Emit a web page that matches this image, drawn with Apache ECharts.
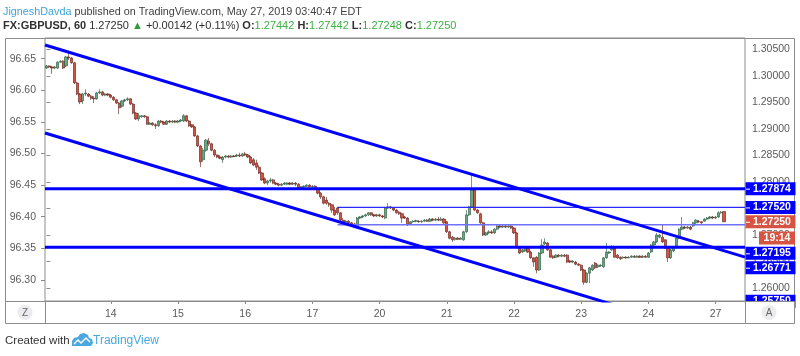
<!DOCTYPE html>
<html><head><meta charset="utf-8">
<script src="https://cdn.jsdelivr.net/npm/echarts@6/dist/echarts.min.js"></script>
<style>html,body{margin:0;padding:0;background:#fff}#c{width:800px;height:356px}</style>
</head><body><div id="c"></div><script>
// ---- data ----
const slotCount = 250;                       // hourly slots on the x axis
const dayStarts = [23,47,71,95,119,143,167,191,215,239];
const dayLabels = ['14','15','16','17','20','21','22','23','24','27'];
// hourly candles [open, close, low, high]
const ohlc = [
[1.3015,1.3019,1.3013,1.3021],[1.3019,1.3017,1.3015,1.3020],[1.3017,1.3015,1.3004,1.3019],[1.3015,1.3017,1.3013,1.3019],
[1.3015,1.3026,1.3013,1.3028],[1.3026,1.3028,1.3025,1.3030],[1.3028,1.3015,1.3013,1.3030],[1.3019,1.3036,1.3017,1.3038],
[1.3036,1.3034,1.3030,1.3045],[1.3034,1.3025,1.3023,1.3036],[1.3025,1.2987,1.2985,1.3026],[1.2987,1.2966,1.2964,1.2989],
[1.2966,1.2951,1.2947,1.2968],[1.2953,1.2966,1.2947,1.2968],[1.2966,1.2968,1.2962,1.2975],[1.2966,1.2962,1.2960,1.2968],
[1.2962,1.2958,1.2955,1.2964],[1.2958,1.2957,1.2949,1.2962],[1.2957,1.2968,1.2955,1.2970],[1.2968,1.2970,1.2966,1.2975],
[1.2970,1.2964,1.2962,1.2972],[1.2964,1.2966,1.2962,1.2968],[1.2966,1.2964,1.2962,1.2968],
// 14
[1.2964,1.2960,1.2958,1.2966],[1.2960,1.2955,1.2953,1.2962],[1.2955,1.2949,1.2947,1.2957],[1.2949,1.2940,1.2928,1.2951],
[1.2943,1.2953,1.2940,1.2955],[1.2953,1.2955,1.2951,1.2957],[1.2955,1.2957,1.2953,1.2960],[1.2957,1.2947,1.2945,1.2958],
[1.2947,1.2930,1.2928,1.2949],[1.2930,1.2919,1.2917,1.2932],[1.2919,1.2925,1.2915,1.2930],[1.2923,1.2925,1.2921,1.2926],
[1.2925,1.2923,1.2921,1.2926],[1.2923,1.2909,1.2908,1.2925],[1.2909,1.2911,1.2908,1.2913],[1.2911,1.2908,1.2906,1.2913],
[1.2908,1.2906,1.2900,1.2911],[1.2906,1.2915,1.2904,1.2917],[1.2915,1.2913,1.2911,1.2917],[1.2913,1.2909,1.2908,1.2915],
[1.2909,1.2915,1.2908,1.2917],[1.2915,1.2913,1.2911,1.2917],[1.2913,1.2915,1.2911,1.2917],[1.2915,1.2913,1.2911,1.2917],
// 15
[1.2913,1.2915,1.2911,1.2917],[1.2915,1.2917,1.2913,1.2919],[1.2915,1.2925,1.2913,1.2928],[1.2925,1.2915,1.2913,1.2926],
[1.2915,1.2906,1.2904,1.2917],[1.2908,1.2904,1.2902,1.2909],[1.2904,1.2887,1.2885,1.2906],[1.2887,1.2868,1.2866,1.2889],
[1.2868,1.2838,1.2828,1.2870],[1.2842,1.2860,1.2838,1.2864],[1.2860,1.2879,1.2857,1.2881],[1.2877,1.2872,1.2868,1.2883],
[1.2872,1.2860,1.2858,1.2874],[1.2860,1.2851,1.2847,1.2862],[1.2851,1.2847,1.2845,1.2852],[1.2847,1.2845,1.2843,1.2851],
[1.2842,1.2847,1.2836,1.2849],[1.2847,1.2849,1.2845,1.2851],[1.2849,1.2847,1.2845,1.2851],[1.2847,1.2849,1.2845,1.2851],
[1.2849,1.2848,1.2847,1.2851],[1.2849,1.2851,1.2847,1.2853],[1.2851,1.2849,1.2847,1.2855],[1.2849,1.2853,1.2847,1.2855],
// 16
[1.2853,1.2851,1.2849,1.2857],[1.2851,1.2847,1.2845,1.2853],[1.2847,1.2836,1.2834,1.2849],[1.2842,1.2832,1.2830,1.2845],
[1.2836,1.2828,1.2823,1.2842],[1.2828,1.2817,1.2815,1.2832],[1.2817,1.2804,1.2802,1.2819],[1.2806,1.2798,1.2796,1.2809],
[1.2798,1.2802,1.2794,1.2804],[1.2802,1.2804,1.2798,1.2808],[1.2804,1.2798,1.2796,1.2806],[1.2798,1.2796,1.2794,1.2800],
[1.2796,1.2794,1.2792,1.2798],[1.2794,1.2796,1.2792,1.2798],[1.2796,1.2798,1.2794,1.2800],[1.2796,1.2798,1.2794,1.2800],
[1.2798,1.2796,1.2794,1.2800],[1.2796,1.2798,1.2794,1.2800],[1.2798,1.2796,1.2792,1.2800],[1.2796,1.2787,1.2785,1.2798],
[1.2789,1.2791,1.2787,1.2792],[1.2791,1.2792,1.2789,1.2794],[1.2792,1.2794,1.2791,1.2796],[1.2794,1.2791,1.2789,1.2796],
// 17
[1.2791,1.2792,1.2789,1.2794],[1.2792,1.2787,1.2785,1.2794],[1.2787,1.2779,1.2777,1.2789],[1.2779,1.2772,1.2768,1.2781],
[1.2772,1.2760,1.2758,1.2774],[1.2766,1.2760,1.2757,1.2772],[1.2760,1.2757,1.2753,1.2762],[1.2757,1.2747,1.2742,1.2758],
[1.2747,1.2738,1.2736,1.2753],[1.2751,1.2742,1.2738,1.2753],[1.2742,1.2728,1.2723,1.2743],[1.2728,1.2725,1.2723,1.2732],
[1.2725,1.2726,1.2723,1.2728],[1.2726,1.2723,1.2721,1.2728],[1.2723,1.2719,1.2717,1.2725],[1.2721,1.2715,1.2713,1.2723],
[1.2715,1.2732,1.2713,1.2734],[1.2732,1.2734,1.2730,1.2736],[1.2734,1.2736,1.2732,1.2738],[1.2736,1.2738,1.2734,1.2740],
[1.2738,1.2742,1.2736,1.2743],[1.2742,1.2738,1.2736,1.2743],[1.2738,1.2736,1.2734,1.2740],[1.2736,1.2738,1.2734,1.2740],
// 20
[1.2738,1.2736,1.2734,1.2740],[1.2736,1.2734,1.2732,1.2738],[1.2732,1.2751,1.2730,1.2753],[1.2751,1.2753,1.2749,1.2760],
[1.2753,1.2751,1.2749,1.2755],[1.2751,1.2747,1.2745,1.2753],[1.2747,1.2742,1.2740,1.2749],[1.2743,1.2740,1.2738,1.2745],
[1.2740,1.2732,1.2723,1.2742],[1.2734,1.2732,1.2730,1.2736],[1.2732,1.2719,1.2717,1.2734],[1.2721,1.2725,1.2719,1.2726],
[1.2725,1.2726,1.2723,1.2728],[1.2726,1.2727,1.2724,1.2729],[1.2726,1.2725,1.2723,1.2728],[1.2725,1.2726,1.2723,1.2728],
[1.2726,1.2728,1.2725,1.2730],[1.2728,1.2726,1.2725,1.2730],[1.2726,1.2730,1.2725,1.2732],[1.2730,1.2728,1.2726,1.2732],
[1.2728,1.2730,1.2726,1.2732],[1.2730,1.2728,1.2726,1.2734],[1.2728,1.2730,1.2726,1.2734],[1.2730,1.2723,1.2721,1.2732],
// 21
[1.2725,1.2706,1.2704,1.2726],[1.2706,1.2694,1.2692,1.2708],[1.2696,1.2691,1.2687,1.2698],[1.2692,1.2694,1.2689,1.2696],
[1.2694,1.2692,1.2691,1.2696],[1.2692,1.2694,1.2691,1.2696],[1.2691,1.2706,1.2689,1.2708],[1.2706,1.2738,1.2704,1.2747],
[1.2738,1.2753,1.2736,1.2755],[1.2753,1.2785,1.2751,1.2813],[1.2785,1.2747,1.2745,1.2787],[1.2747,1.2742,1.2740,1.2749],
[1.2740,1.2723,1.2721,1.2742],[1.2723,1.2700,1.2698,1.2725],[1.2700,1.2704,1.2698,1.2706],[1.2704,1.2706,1.2702,1.2709],
[1.2706,1.2704,1.2702,1.2709],[1.2704,1.2711,1.2702,1.2713],[1.2711,1.2717,1.2709,1.2719],[1.2717,1.2715,1.2713,1.2719],
[1.2715,1.2717,1.2713,1.2719],[1.2717,1.2715,1.2713,1.2719],[1.2715,1.2717,1.2713,1.2719],[1.2717,1.2713,1.2711,1.2719],
// 22
[1.2713,1.2704,1.2702,1.2715],[1.2704,1.2677,1.2675,1.2706],[1.2677,1.2666,1.2664,1.2679],[1.2668,1.2672,1.2666,1.2674],
[1.2670,1.2675,1.2668,1.2677],[1.2675,1.2668,1.2666,1.2677],[1.2668,1.2657,1.2655,1.2670],[1.2657,1.2649,1.2640,1.2658],
[1.2658,1.2634,1.2628,1.2660],[1.2634,1.2666,1.2632,1.2668],[1.2666,1.2681,1.2664,1.2692],[1.2683,1.2687,1.2681,1.2694],
[1.2685,1.2672,1.2670,1.2687],[1.2672,1.2658,1.2657,1.2674],[1.2660,1.2657,1.2655,1.2662],[1.2658,1.2662,1.2657,1.2664],
[1.2662,1.2660,1.2658,1.2664],[1.2660,1.2662,1.2658,1.2664],[1.2662,1.2660,1.2658,1.2664],[1.2662,1.2649,1.2647,1.2664],
[1.2651,1.2649,1.2647,1.2653],[1.2649,1.2651,1.2647,1.2653],[1.2649,1.2645,1.2643,1.2651],[1.2645,1.2643,1.2642,1.2647],
// 23
[1.2643,1.2634,1.2632,1.2645],[1.2634,1.2611,1.2606,1.2636],[1.2611,1.2628,1.2609,1.2630],[1.2628,1.2638,1.2609,1.2640],
[1.2634,1.2643,1.2632,1.2645],[1.2647,1.2638,1.2636,1.2649],[1.2640,1.2643,1.2638,1.2645],[1.2642,1.2643,1.2640,1.2645],
[1.2640,1.2657,1.2638,1.2658],[1.2657,1.2668,1.2655,1.2685],[1.2666,1.2668,1.2664,1.2670],[1.2672,1.2677,1.2670,1.2681],
[1.2675,1.2658,1.2657,1.2677],[1.2662,1.2657,1.2655,1.2664],[1.2658,1.2655,1.2653,1.2660],[1.2657,1.2658,1.2655,1.2660],
[1.2658,1.2657,1.2655,1.2660],[1.2657,1.2658,1.2656,1.2660],[1.2658,1.2660,1.2657,1.2662],[1.2660,1.2658,1.2657,1.2662],
[1.2658,1.2660,1.2657,1.2662],[1.2660,1.2658,1.2657,1.2662],[1.2658,1.2660,1.2657,1.2662],[1.2660,1.2658,1.2657,1.2662],
// 24
[1.2658,1.2666,1.2657,1.2668],[1.2668,1.2681,1.2666,1.2683],[1.2681,1.2687,1.2679,1.2689],[1.2687,1.2700,1.2685,1.2704],
[1.2696,1.2700,1.2694,1.2702],[1.2696,1.2687,1.2685,1.2719],[1.2691,1.2675,1.2674,1.2692],[1.2675,1.2657,1.2649,1.2677],
[1.2657,1.2672,1.2655,1.2674],[1.2670,1.2677,1.2668,1.2679],[1.2677,1.2694,1.2675,1.2696],[1.2694,1.2711,1.2692,1.2713],
[1.2711,1.2715,1.2709,1.2734],[1.2715,1.2713,1.2711,1.2717],[1.2713,1.2715,1.2711,1.2717],[1.2715,1.2711,1.2709,1.2717],
[1.2717,1.2723,1.2715,1.2725],[1.2723,1.2728,1.2721,1.2730],[1.2726,1.2725,1.2723,1.2728],[1.2725,1.2723,1.2721,1.2726],
[1.2726,1.2730,1.2725,1.2732],[1.2730,1.2732,1.2728,1.2734],[1.2732,1.2734,1.2730,1.2736],[1.2734,1.2732,1.2730,1.2736],
// 27
[1.2732,1.2734,1.2730,1.2736],[1.2734,1.2742,1.2732,1.2745],[1.2742,1.2743,1.2740,1.2745],[1.27442,1.27250,1.27248,1.27442]
];
const leftTicks  = [96.30,96.35,96.40,96.45,96.50,96.55,96.60,96.65];
const rightTicks = [1.260,1.265,1.270,1.275,1.280,1.285,1.290,1.295,1.300,1.305];
// drawings, in [slot, price]
const channelUpper = [[-0.5,1.30585],[249.5,1.26583]];
const channelLower = [[-0.5,1.28925],[249.5,1.24936]];
const levelHigh  = [[-0.5,1.27874],[249.5,1.27874]];
const levelLow   = [[-0.5,1.26771],[249.5,1.26771]];
const thinUpper  = [[104,1.27520],[249.5,1.27520]];
const thinLower  = [[104,1.27195],[249.5,1.27195]];
// price tags on the right scale
const tagPrices = [1.27874,1.27520,1.27250,1.27195,1.26771,1.25750];
const countdownText = '19:14';

// ---- layout / style ----
const tagLabelAt = [1.27874,1.27520,1.27250,1.26655,1.26383,1.25750];
const tagColors  = ['#0000ff','#0000ff','#d75442','#0000ff','#0000ff','#0000ff'];
const countdownAt = 1.26944;
const FONT = '"Liberation Sans", Arial, sans-serif';
const BLUE = '#0000ff';

const categories = Array.from({length: slotCount}, (_, i) => String(i));
const dayMap = {};
dayStarts.forEach((s, k) => { dayMap[s] = dayLabels[k]; });

const chart = echarts.init(document.getElementById('c'), null, {renderer: 'canvas'});

function lineSeries(data, color, width, z) {
  return {type: 'line', xAxisIndex: 1, yAxisIndex: 0, data, symbol: 'none', silent: true,
    lineStyle: {color, width}, z: z || 4, clip: true, animation: false};
}

const tagData = tagPrices.map((p, i) => [0, tagLabelAt[i], p]);

const option = {
  animation: false,
  backgroundColor: '#ffffff',
  textStyle: {fontFamily: FONT},
  grid: {left: 45, right: 55, top: 38, bottom: 55, show: true, borderColor: '#8c8c8c', borderWidth: 1},
  xAxis: [{
    type: 'category', data: categories, boundaryGap: true,
    axisLine: {show: false},
    axisTick: {show: true, alignWithLabel: true, length: 3, lineStyle: {color: '#8c8c8c'},
      interval: (i) => dayMap[i] !== undefined},
    axisLabel: {show: true, color: '#5a5a5a', fontSize: 10.5, margin: 8, fontFamily: FONT,
      interval: (i) => dayMap[i] !== undefined, formatter: (v, i) => dayMap[i] || ''},
    splitLine: {show: false}
  }, {
    type: 'value', min: -0.5, max: slotCount - 0.5, show: false
  }],
  yAxis: [{
    type: 'value', position: 'right', min: 1.25755, max: 1.30717, scale: true,
    axisLine: {show: false}, splitLine: {show: false},
    axisTick: {show: true, length: 4, lineStyle: {color: '#8c8c8c'}, customValues: rightTicks},
    axisLabel: {color: '#5a5a5a', fontSize: 10.5, margin: 7, fontFamily: FONT, customValues: rightTicks,
      formatter: (v) => v.toFixed(5)}
  }, {
    type: 'value', position: 'left', min: 96.2666, max: 96.6828, scale: true,
    axisLine: {show: false}, splitLine: {show: false},
    axisTick: {show: true, length: 4, lineStyle: {color: '#8c8c8c'}, customValues: leftTicks},
    axisLabel: {color: '#5a5a5a', fontSize: 10.5, margin: 9, fontFamily: FONT, customValues: leftTicks,
      formatter: (v) => v.toFixed(2)}
  }],
  series: [
    {type: 'candlestick', xAxisIndex: 0, yAxisIndex: 0, data: ohlc, barWidth: 2.6, z: 2,
      itemStyle: {color: '#6ba583', color0: '#d75442', borderColor: '#225437', borderColor0: '#5b1a13', borderWidth: 0.6}},
    lineSeries(thinUpper, '#2a2aff', 1.2),
    lineSeries(thinLower, '#7070ff', 1.5),
    lineSeries(levelHigh, BLUE, 3),
    lineSeries(levelLow, BLUE, 3),
    lineSeries(channelUpper, BLUE, 3),
    lineSeries(channelLower, BLUE, 3),
    {type: 'custom', xAxisIndex: 0, yAxisIndex: 0, data: tagData, z: 6, silent: true, clip: false,
      encode: {x: 0, y: 1},
      renderItem: (params, api) => {
        const i = params.dataIndex;
        const y = api.coord([0, api.value(1)])[1];
        const x0 = params.coordSys.x + params.coordSys.width;
        const h = 13;
        return {type: 'group', children: [
          {type: 'rect', shape: {x: x0 + 0.5, y: y - h / 2, width: 50, height: h}, style: {fill: tagColors[i]}},
          {type: 'line', shape: {x1: x0 + 1, y1: y + 0.5, x2: x0 + 5, y2: y + 0.5}, style: {stroke: '#fff', lineWidth: 1}},
          {type: 'text', style: {text: api.value(2).toFixed(5), x: x0 + 8, y: y, fill: '#fff',
            font: 'bold 10.5px ' + FONT, verticalAlign: 'middle', align: 'left'}}
        ]};
      }},
    {type: 'custom', xAxisIndex: 0, yAxisIndex: 0, data: [[0, countdownAt]], z: 6, silent: true, clip: false,
      encode: {x: 0, y: 1},
      renderItem: (params, api) => {
        const y = api.coord([0, api.value(1)])[1];
        const x0 = params.coordSys.x + params.coordSys.width;
        return {type: 'group', children: [
          {type: 'rect', shape: {x: x0 + 14, y: y - 6.5, width: 36, height: 13}, style: {fill: '#d75442'}},
          {type: 'text', style: {text: countdownText, x: x0 + 32, y: y, fill: '#fff',
            font: 'bold 10.5px ' + FONT, verticalAlign: 'middle', align: 'center'}}
        ]};
      }}
  ],
  graphic: [
    {type: 'rect', z: 1, silent: true, shape: {x: 5.5, y: 38.5, width: 789, height: 285},
      style: {fill: 'none', stroke: '#8c8c8c', lineWidth: 1}},
    {type: 'line', z: 1, silent: true, shape: {x1: 5, y1: 301.5, x2: 795, y2: 301.5}, style: {stroke: '#8c8c8c', lineWidth: 1}},
    {type: 'line', z: 1, silent: true, shape: {x1: 45.5, y1: 301, x2: 45.5, y2: 323}, style: {stroke: '#8c8c8c', lineWidth: 1}},
    {type: 'rect', z: 50, silent: true, shape: {x: 745.5, y: 301.5, width: 49, height: 22},
      style: {fill: '#fff', stroke: '#8c8c8c', lineWidth: 1}},
    {type: 'circle', z: 51, silent: true, shape: {cx: 25, cy: 312.5, r: 7.5}, style: {fill: '#ebebf0'}},
    {type: 'text', z: 52, silent: true, style: {text: 'Z', x: 25, y: 313, fill: '#666', font: '10px ' + FONT, align: 'center', verticalAlign: 'middle'}},
    {type: 'circle', z: 51, silent: true, shape: {cx: 769, cy: 312.5, r: 7.5}, style: {fill: '#ebebf0'}},
    {type: 'text', z: 52, silent: true, style: {text: 'A', x: 769, y: 313, fill: '#666', font: '10px ' + FONT, align: 'center', verticalAlign: 'middle'}},
    {type: 'text', z: 60, silent: true, style: {
      text: '{u|JigneshDavda}{t| published on TradingView.com, May 27, 2019 03:40:47 EDT}',
      x: 3, y: 12, verticalAlign: 'middle',
      rich: {u: {fill: '#3ea3dc', fontSize: 10.8, fontFamily: FONT}, t: {fill: '#404040', fontSize: 10.8, fontFamily: FONT}}}},
    {type: 'text', z: 60, silent: true, style: {
      text: '{b|FX:GBPUSD, 60}{t| 1.27250 }{g|▲}{t| +0.00142 (+0.11%) }{b|O:}{v|1.27442}{b| H:}{v|1.27442}{b| L:}{v|1.27248}{b| C:}{v|1.27250}',
      x: 3, y: 25.5, verticalAlign: 'middle',
      rich: {
        b: {fill: '#303030', fontSize: 11, fontWeight: 'bold', fontFamily: FONT},
        t: {fill: '#303030', fontSize: 11, fontFamily: FONT},
        g: {fill: '#2a9d3a', fontSize: 11, fontFamily: FONT},
        v: {fill: '#3cb043', fontSize: 11, fontFamily: FONT}}}},
    {type: 'text', z: 60, silent: true, style: {text: 'Created with', x: 5, y: 340.5, fill: '#333',
      font: '11.5px ' + FONT, verticalAlign: 'middle'}},
    {type: 'polygon', z: 60, silent: true,
      shape: {points: [[72,346],[72,341],[74,338],[78,337],[80,334],[84,333],[88,335],[89,338],[92,339],[93,343],[91,346]]},
      style: {fill: '#4aa8df'}},
    {type: 'polyline', z: 61, silent: true, shape: {points: [[74,344],[78,340],[81,343],[86,338],[90,342]]},
      style: {stroke: '#fff', lineWidth: 1.5, fill: 'none'}},
    {type: 'text', z: 60, silent: true, style: {text: 'TradingView', x: 93, y: 340.5, fill: '#4aa8df',
      font: '12px ' + FONT, verticalAlign: 'middle'}}
  ]
};
chart.setOption(option);
</script></body></html>
